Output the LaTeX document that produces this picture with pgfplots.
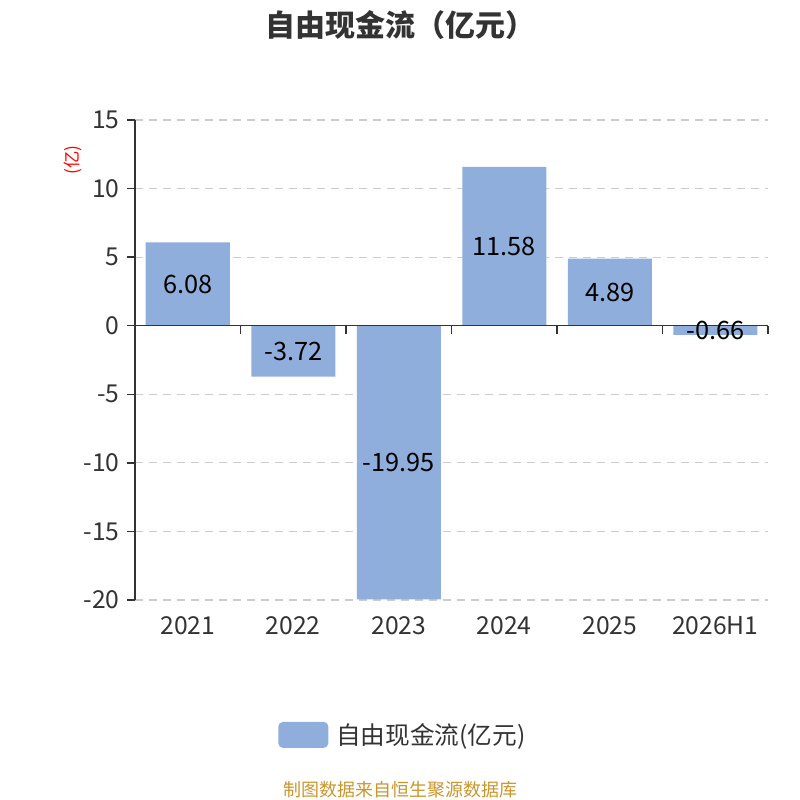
\documentclass[border=0pt]{standalone}
\usepackage{pgfplots}
\pgfplotsset{compat=1.18}
\usepackage{pgfplotstable}
\usepackage{fontspec}
\setmainfont{Noto Sans CJK SC}
\definecolor{barblue}{HTML}{8FAEDB}
\definecolor{axiscol}{HTML}{333333}
\definecolor{gridcol}{HTML}{CCCCCC}
\definecolor{footcol}{HTML}{C9962B}
\pgfplotstableread{
x y label
0 6.08 6.08
1 -3.72 -3.72
2 -19.95 -19.95
3 11.58 11.58
4 4.89 4.89
5 -0.66 -0.66
}\datatable
\begin{document}
\begin{tikzpicture}
\path[use as bounding box] (0,0) rectangle (600pt,600pt);
\begin{axis}[
  at={(101.25pt,150pt)}, anchor=south west,
  scale only axis, width=474.75pt, height=360pt,
  xmin=-0.5, xmax=5.5, ymin=-20, ymax=15,
  axis lines*=left,
  x axis line style={draw=none},
  y axis line style={-, draw=axiscol, line width=1.1pt},
  xtick={0,1,2,3,4,5},
  xticklabels={2021,2022,2023,2024,2025,2026H1},
  ytick={-20,-15,-10,-5,0,5,10,15},
  xtick style={draw=none},
  ytick style={draw=axiscol, line width=1.1pt},
  tick align=outside, major tick length=6pt,
  ymajorgrids, grid style={gridcol, dashed, dash pattern=on 6pt off 4.5pt, line width=0.9pt},
  /pgf/number format/assume math mode=true,
  tick label style={font=\fontsize{18.5}{22}\selectfont, text=axiscol},
  xticklabel style={yshift=-3pt},
  yticklabel style={xshift=-2pt},
  ylabel={(亿)},
  ylabel style={at={(axis description cs:-0.098,0.917)}, anchor=center, rotate=0, text=red, font=\fontsize{13}{15}\selectfont},
  legend style={at={(rel axis cs:0.226,-0.281)}, anchor=west, draw=none, fill=none, inner sep=0pt,
    font=\fontsize{18.5}{22}\selectfont, text=axiscol},
  legend cell align=left,
  legend image code/.code={\fill[barblue, rounded corners=3.5pt] (0pt,-9.75pt) rectangle (37.5pt,9.75pt);},
  legend style={/tikz/every even column/.append style={column sep=0pt}, nodes={inner xsep=6pt}},
  clip=false,
]
\addplot[ybar, bar width=63pt, fill=barblue, draw=none,
  nodes near coords, point meta=explicit symbolic,
  visualization depends on={-0.5*\thisrow{y} \as \halfshift},
  every node near coord/.append style={anchor=center, shift={(axis direction cs:0,\halfshift)},
     font=\fontsize{19}{22}\selectfont, text=black}]
  table[x=x, y=y, meta=label] {\datatable};
\addlegendentry{自由现金流(亿元)}
\draw[axiscol, line width=1.1pt] (axis cs:-0.5,0) -- (axis cs:5.5,0);
\pgfplotsinvokeforeach{-0.5,0.5,1.5,2.5,3.5,4.5,5.5}{
  \draw[axiscol, line width=1.1pt] (axis cs:#1,0) -- ++(0pt,-6pt);
}
\end{axis}
\node[font=\fontsize{22.5}{26}\selectfont\bfseries, text=axiscol] at (300pt,581.25pt) {自由现金流（亿元）};
\node[font=\fontsize{13.5}{16}\selectfont, text=footcol] at (300pt,7.5pt) {制图数据来自恒生聚源数据库};
\end{tikzpicture}
\end{document}
